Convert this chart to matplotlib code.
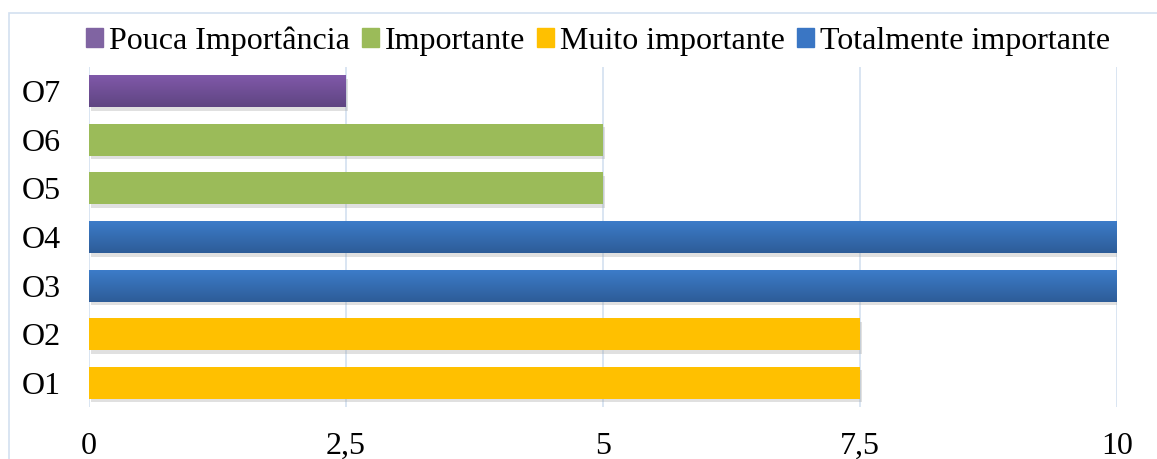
import matplotlib
matplotlib.use("Agg")
import matplotlib.pyplot as plt
import matplotlib.patheffects as pe
from matplotlib.patches import Rectangle
import numpy as np

plt.rcParams['font.family'] = ['Liberation Serif', 'DejaVu Serif']

categories = ["O1", "O2", "O3", "O4", "O5", "O6", "O7"]
series_names = ["Pouca Importância", "Importante", "Muito importante", "Totalmente importante"]
# value of each category, and which series it belongs to
values = [7.5, 7.5, 10, 10, 5, 5, 2.5]
series_of = [2, 2, 3, 3, 1, 1, 0]
colors = ["#8064A2", "#9BBB59", "#FFC000", "#3A76C4"]
grad_top = {0: "#8159AA", 3: "#3D7DCA"}
grad_bot = {0: "#5F4582", 3: "#2D5C98"}
xticks = [0, 2.5, 5, 7.5, 10]
xticklabels = ["0", "2,5", "5", "7,5", "10"]

FS = 23

fig = plt.figure(figsize=(11.57, 4.59), dpi=100)
ax = fig.add_axes([89/1157, 1-407/459, (1117-89)/1157, (407-67)/459])

ypos = np.arange(len(categories))
h = 0.66
shadow = [pe.SimplePatchShadow(offset=(1.5, -2.5), shadow_rgbFace="#9A9A9A", alpha=0.3), pe.Normal()]
for y, v, s in zip(ypos, values, series_of):
    bars = ax.barh(y, v, height=h, color=colors[s], zorder=3, path_effects=shadow)
    if s in grad_top:
        bar = bars[0]
        c1 = np.array(matplotlib.colors.to_rgb(grad_top[s]))
        c2 = np.array(matplotlib.colors.to_rgb(grad_bot[s]))
        t = np.linspace(0, 1, 64)[:, None]
        img = (c1 * (1 - t) + c2 * t)[:, None, :]
        im = ax.imshow(img, extent=(0, v, y - h/2, y + h/2), aspect="auto", zorder=4,
                       interpolation="bilinear", origin="upper")
        im.set_clip_path(bar)

ax.set_xlim(0, 10)
ax.set_ylim(-0.5, 6.5)
ax.set_yticks(ypos)
ax.set_yticklabels(categories, fontsize=FS)
ax.set_xticks(xticks)
ax.set_xticklabels(xticklabels, fontsize=FS)
ax.tick_params(axis="both", length=0)
ax.tick_params(axis="y", pad=20)
ax.tick_params(axis="x", pad=18)
ax.grid(axis="x", color="#D3E0F0", linewidth=1.2, zorder=0)
ax.set_axisbelow(True)
for sp in ax.spines.values():
    sp.set_visible(False)

handles = [Rectangle((0, 0), 1, 1, color=c) for c in colors]
fig.legend(handles, series_names, loc="center", bbox_to_anchor=(598/1157, 1-41/459), ncol=4,
           frameon=False, fontsize=FS, handlelength=0.53, handleheight=0.53,
           handletextpad=0.19, columnspacing=0.37, borderpad=0, borderaxespad=0)

fig.patches.append(Rectangle((9/1157, -0.1), 1.2, 1.1 - 13/459, transform=fig.transFigure,
                             fill=False, edgecolor="#D3E0F0", linewidth=1.2))

fig.savefig("out.png", dpi=100)
